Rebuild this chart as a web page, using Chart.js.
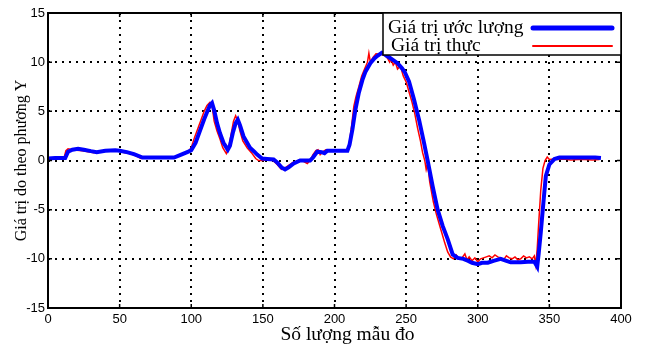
<!DOCTYPE html>
<html>
<head>
<meta charset="utf-8">
<script src="https://cdn.jsdelivr.net/npm/chart.js@4"></script>
<style>
  body { margin: 0; background: #fff; }
  canvas { display: block; }
</style>
</head>
<body>
<canvas id="myChart" width="654" height="345"></canvas>
<script>
// sample positions / values
var estX = [0, 5, 12, 14, 17, 21, 25, 30, 34, 40, 47, 50, 55, 60, 66, 75, 88, 93, 98, 100,
    103, 106, 109, 111, 113, 114.5, 116, 118, 120, 122.5, 125.5, 127, 129, 131, 132.5, 134, 136.5, 139, 141, 144,
    146, 149.5, 153, 157.5, 160, 163, 165.5, 168, 171.5, 176, 183, 185, 188, 191, 193, 195, 200, 209, 210.5, 212.5,
    214.5, 217, 219.5, 221.5, 225, 228, 230, 233, 235, 238, 240.5, 244, 247, 249, 252, 255.5, 259, 262.5, 265, 268.5,
    272, 275.5, 279, 282.5, 286, 290, 293, 296, 300, 303, 307, 311, 316, 320, 323, 330, 335, 339.5, 341.5, 342.5,
    344, 346, 347.5, 350, 353.5, 357, 365, 372, 378, 382, 386];
var estY = [0.2, 0.25, 0.25, 0.9, 1.1, 1.2, 1.1, 0.95, 0.85, 1.0, 1.05, 1.0, 0.85, 0.65, 0.3, 0.3, 0.3, 0.6, 0.9, 1.05,
    1.8, 3.0, 4.2, 4.9, 5.6, 5.85, 5.1, 3.8, 2.8, 1.8, 1.1, 1.5, 2.8, 3.8, 4.15, 3.6, 2.45, 1.8, 1.3, 0.9,
    0.6, 0.2, 0.15, 0.1, -0.2, -0.7, -0.9, -0.7, -0.3, 0.0, 0.0, 0.3, 0.9, 0.85, 0.75, 1.0, 1.0, 1.0, 1.6, 3.15,
    5.1, 6.9, 8.2, 9.0, 9.9, 10.4, 10.65, 10.95, 10.8, 10.5, 10.25, 9.9, 9.4, 9.0, 8.05, 6.2, 4.15, 1.8, 0.0, -2.6,
    -5.0, -6.65, -8.0, -9.55, -9.9, -10.0, -10.2, -10.4, -10.55, -10.4, -10.4, -10.2, -10.0, -10.2, -10.35, -10.35, -10.3, -10.3, -10.8, -9.5,
    -7.3, -4.0, -1.6, -0.4, 0.15, 0.3, 0.3, 0.3, 0.3, 0.3, 0.25];

var realX = [0, 6, 11, 12.5, 14, 17, 20, 24, 28, 32, 36, 40, 44, 47, 50, 53, 57, 61, 65, 70,
    80, 88, 93, 98, 100, 102, 105, 107, 109, 111, 113, 114.5, 116, 118, 120, 122, 124.5, 126, 128, 129.5,
    131, 132.5, 134, 136, 139, 142, 145, 147, 150, 153, 157, 160, 163, 165, 168, 171, 175, 178, 181, 183,
    185, 187, 188.5, 190, 192, 194, 200, 209, 210, 212, 213.5, 215, 217, 219, 221, 223, 224, 225, 227, 229,
    232, 235, 237, 238.5, 239.5, 241, 242.5, 244, 246, 248, 250, 252, 254, 256, 258, 260, 261.5, 263, 264, 265,
    266.5, 269, 271, 273, 275, 277, 279, 281, 283, 285, 287, 289, 291, 292.5, 294, 296, 298, 300, 302, 304,
    306, 308, 310, 312, 314, 316, 318, 320, 322, 324, 326, 328, 330, 332, 334, 336, 338, 339.5, 340.5, 341.5,
    342.5, 344, 345.5, 347, 348.5, 350, 353, 356, 360, 365, 370, 375, 380, 385];
var realY = [0.1, 0.15, 0.15, 1.0, 1.2, 1.1, 1.05, 1.0, 0.9, 0.8, 0.95, 1.0, 0.95, 1.0, 0.95, 0.8, 0.7, 0.5, 0.2, 0.3,
    0.3, 0.3, 0.6, 0.95, 1.3, 2.2, 3.4, 4.2, 5.0, 5.6, 5.9, 5.6, 4.0, 3.0, 2.2, 1.3, 0.7, 1.2, 2.8, 4.0,
    4.55, 4.0, 3.0, 2.0, 1.3, 0.8, 0.2, 0.0, 0.0, 0.1, 0.0, -0.4, -0.9, -0.8, -0.5, -0.2, 0.0, -0.05, -0.3, 0.0,
    0.6, 1.0, 1.1, 0.6, 0.9, 1.1, 1.0, 1.0, 1.4, 3.6, 5.5, 6.5, 7.5, 8.6, 9.3, 10.0, 10.9, 10.0, 10.5, 10.85,
    10.8, 10.7, 10.4, 10.0, 10.3, 9.7, 10.0, 9.3, 9.6, 8.6, 8.0, 7.0, 6.0, 4.8, 3.3, 2.0, 0.8, 0.0, -0.9, -0.3,
    -2.2, -4.2, -5.4, -6.4, -7.4, -8.4, -9.3, -9.8, -10.0, -9.6, -10.0, -9.9, -9.5, -10.1, -9.8, -10.2, -9.9, -10.3, -10.0, -9.9,
    -9.8, -9.7, -9.9, -9.6, -9.8, -9.9, -10.1, -9.7, -9.9, -10.0, -9.8, -10.1, -10.0, -9.7, -9.9, -9.8, -10.0, -9.7, -10.6, -9.0,
    -6.5, -3.0, -0.8, 0.0, 0.35, 0.1, 0.15, 0.1, 0.15, 0.05, 0.1, 0.1, 0.05, 0.1];

var xTicks = [0, 50, 100, 150, 200, 250, 300, 350, 400];
var yTicks = [-15, -10, -5, 0, 5, 10, 15];
var seriesNames = ['Giá trị ước lượng', 'Giá trị thực'];
var xTitle = 'Số lượng mẫu đo';
var yTitle = 'Giá trị do theo phương Y';

function toPoints(xs, ys) {
    var pts = [];
    for (var i = 0; i < xs.length; i++) {
        pts.push({ x: xs[i], y: ys[i] });
    }
    return pts;
}

// frame, inward ticks, x title and the boxed legend
var framePlugin = {
    id: 'frame',
    afterDraw: function(chart) {
        var ctx = chart.ctx;
        var a = chart.chartArea;
        var xs = chart.scales.x, ys = chart.scales.y;
        ctx.save();
        ctx.strokeStyle = '#000';
        ctx.lineWidth = 1.5;
        ctx.setLineDash([]);
        ctx.beginPath();
        xTicks.forEach(function(v) {
            var px = xs.getPixelForValue(v);
            ctx.moveTo(px, a.bottom); ctx.lineTo(px, a.bottom - 4);
            ctx.moveTo(px, a.top); ctx.lineTo(px, a.top + 4);
        });
        yTicks.forEach(function(v) {
            var py = ys.getPixelForValue(v);
            ctx.moveTo(a.left, py); ctx.lineTo(a.left + 4, py);
            ctx.moveTo(a.right, py); ctx.lineTo(a.right - 4, py);
        });
        ctx.stroke();
        ctx.lineWidth = 2;
        ctx.strokeRect(a.left, a.top, a.right - a.left, a.bottom - a.top);

        // x axis title (sits a little right of centre in the original)
        ctx.fillStyle = '#000';
        ctx.font = '19.5px "Liberation Serif", serif';
        ctx.textAlign = 'center';
        ctx.textBaseline = 'alphabetic';
        ctx.fillText(xTitle, (a.left + a.right) / 2 + 13, 340);

        // legend box
        var bx = 383, by = a.top, bw = a.right - bx, bh = 42;
        ctx.fillStyle = '#fff';
        ctx.fillRect(bx, by, bw, bh);
        ctx.lineWidth = 1.5;
        ctx.strokeRect(bx, by, bw, bh);
        ctx.textBaseline = 'middle';
        ctx.textAlign = 'left';
        chart.data.datasets.forEach(function(ds, i) {
            var cy = by + 15 + i * 18;
            ctx.fillStyle = '#000';
            ctx.fillText(ds.label, bx + 5 + i * 3, cy);
            ctx.strokeStyle = ds.borderColor;
            ctx.lineWidth = i === 0 ? 5 : 2;
            ctx.lineCap = 'round';
            ctx.beginPath();
            ctx.moveTo(bx + 150, cy);
            ctx.lineTo(bx + 229, cy);
            ctx.stroke();
        });
        ctx.restore();
    }
};

var dotted = { display: false, dash: [2, 5] };

function createChart() {
    var ctx = document.getElementById('myChart').getContext('2d');
    new Chart(ctx, {
        type: 'line',
        data: {
            datasets: [
                {
                    label: seriesNames[0],
                    data: toPoints(estX, estY),
                    borderColor: '#0000ff',
                    borderWidth: 4,
                    pointRadius: 0,
                    tension: 0
                },
                {
                    label: seriesNames[1],
                    data: toPoints(realX, realY),
                    borderColor: '#ff0000',
                    borderWidth: 1.5,
                    pointRadius: 0,
                    tension: 0
                }
            ]
        },
        options: {
            responsive: false,
            animation: false,
            layout: { padding: { top: 13, right: 33, left: 0, bottom: 0 } },
            plugins: {
                legend: { display: false },
                tooltip: { enabled: false }
            },
            scales: {
                x: {
                    type: 'linear',
                    min: 0,
                    max: 400,
                    afterFit: function(scale) { scale.height = 37; },
                    ticks: {
                        stepSize: 50,
                        color: '#000',
                        padding: 4,
                        maxRotation: 0,
                        font: { family: '"Liberation Sans", Arial, sans-serif', size: 13 }
                    },
                    grid: { color: '#000', lineWidth: 2, drawTicks: false },
                    border: dotted
                },
                y: {
                    min: -15,
                    max: 15,
                    afterFit: function(scale) { scale.width = 48; },
                    ticks: {
                        stepSize: 5,
                        color: '#000',
                        padding: 3,
                        font: { family: '"Liberation Sans", Arial, sans-serif', size: 13 }
                    },
                    grid: { color: '#000', lineWidth: 2, drawTicks: false },
                    border: dotted,
                    title: {
                        display: true,
                        text: yTitle,
                        color: '#000',
                        padding: { top: 12, bottom: 0 },
                        font: { family: '"Liberation Serif", serif', size: 16 }
                    }
                }
            }
        },
        plugins: [framePlugin]
    });
}
createChart();
</script>
</body>
</html>
